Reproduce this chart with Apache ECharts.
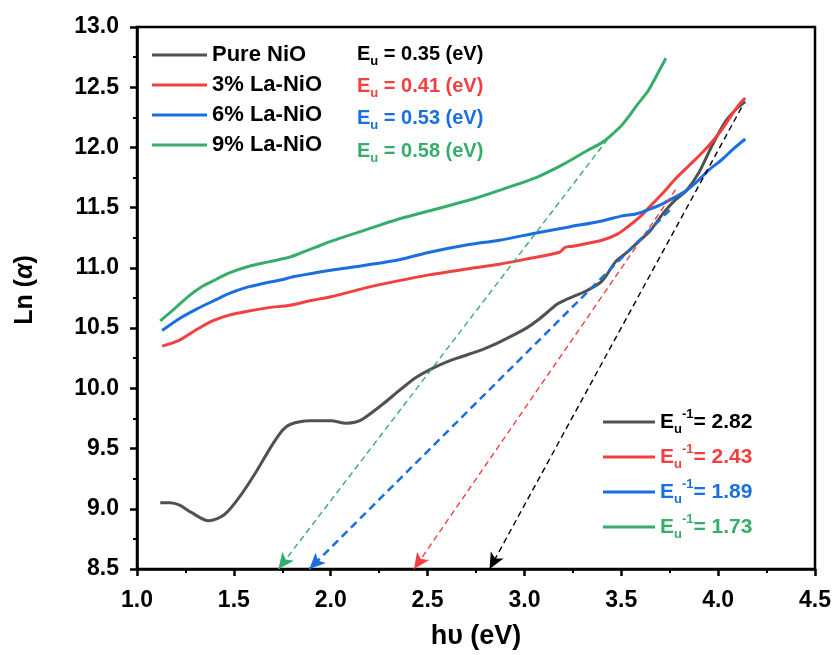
<!DOCTYPE html>
<html><head><meta charset="utf-8">
<script src="https://cdn.jsdelivr.net/npm/echarts@6/dist/echarts.min.js"></script>
<style>html,body{margin:0;padding:0;background:#fff}#chart{width:834px;height:655px}</style>
</head><body><div id="chart"></div>
<script>
// Urbach plots: Ln(alpha) against photon energy for NiO and La-doped NiO
const seriesNames = ['Pure NiO', '3% La-NiO', '6% La-NiO', '9% La-NiO'];
const lineColors = ['#515151', '#F14040', '#1A6FDF', '#37AD6B'];
const labelColors = ['#000000', '#F14040', '#1A6FDF', '#37AD6B'];

const pureNiO = [
  [1.12, 9.05], [1.17, 9.05], [1.22, 9.03], [1.28, 8.97], [1.37, 8.90], [1.45, 8.95], [1.53, 9.10],
  [1.62, 9.32], [1.69, 9.51], [1.75, 9.65], [1.79, 9.70], [1.89, 9.73], [2.00, 9.73],
  [2.08, 9.71], [2.13, 9.72], [2.17, 9.75], [2.27, 9.87], [2.36, 9.99], [2.44, 10.09],
  [2.53, 10.17], [2.60, 10.22], [2.67, 10.26], [2.78, 10.32], [2.84, 10.36], [2.94, 10.44],
  [3.01, 10.50], [3.08, 10.58], [3.17, 10.70], [3.22, 10.74], [3.32, 10.81], [3.40, 10.89],
  [3.47, 11.05], [3.53, 11.13], [3.59, 11.22], [3.65, 11.31], [3.71, 11.44], [3.77, 11.55],
  [3.835, 11.64], [3.90, 11.79], [3.97, 12.02], [4.04, 12.22], [4.10, 12.33], [4.14, 12.38]
];
const la3NiO = [
  [1.13, 10.35], [1.22, 10.40], [1.30, 10.48], [1.39, 10.56], [1.48, 10.61], [1.57, 10.64],
  [1.68, 10.67], [1.79, 10.69], [1.90, 10.73], [2.00, 10.76], [2.17, 10.83], [2.34, 10.89],
  [2.50, 10.94], [2.70, 10.99], [2.87, 11.03], [3.03, 11.08], [3.18, 11.13], [3.21, 11.17],
  [3.25, 11.18], [3.40, 11.23], [3.48, 11.28], [3.54, 11.35], [3.60, 11.43], [3.66, 11.53],
  [3.72, 11.63], [3.78, 11.74], [3.85, 11.85], [3.92, 11.96], [3.97, 12.05], [4.02, 12.15],
  [4.07, 12.27], [4.12, 12.38], [4.14, 12.41]
];
const la6NiO = [
  [1.13, 10.48], [1.22, 10.58], [1.31, 10.66], [1.40, 10.73], [1.48, 10.79], [1.57, 10.84],
  [1.65, 10.87], [1.74, 10.90], [1.82, 10.93], [2.00, 10.98], [2.17, 11.02], [2.36, 11.07],
  [2.51, 11.13], [2.70, 11.19], [2.87, 11.23], [3.06, 11.29], [3.23, 11.34], [3.40, 11.39],
  [3.50, 11.43], [3.58, 11.45], [3.65, 11.49], [3.71, 11.53], [3.78, 11.59], [3.835, 11.64],
  [3.90, 11.73], [3.95, 11.81], [4.02, 11.90], [4.08, 11.99], [4.14, 12.07]
];
const la9NiO = [
  [1.12, 10.56], [1.20, 10.67], [1.27, 10.77], [1.33, 10.84], [1.39, 10.89], [1.48, 10.96],
  [1.57, 11.01], [1.68, 11.05], [1.79, 11.09], [1.84, 11.12], [1.92, 11.17], [2.00, 11.22],
  [2.17, 11.31], [2.34, 11.40], [2.50, 11.47], [2.73, 11.57], [2.90, 11.66], [3.06, 11.75],
  [3.20, 11.86], [3.32, 11.97], [3.40, 12.04], [3.44, 12.09], [3.50, 12.18], [3.54, 12.26],
  [3.58, 12.35], [3.63, 12.45], [3.66, 12.53], [3.69, 12.62], [3.73, 12.74]
];
const curves = [pureNiO, la3NiO, la6NiO, la9NiO];

// Urbach energies (eV) and their inverses, where the fit lines meet the energy axis
const urbachEnergy = [0.35, 0.41, 0.53, 0.58];
const inverseUrbach = [2.82, 2.43, 1.89, 1.73];
// upper end of each extrapolated linear fit
const fitUpperEnd = [[4.12, 12.33], [3.78, 11.65], [3.75, 11.48], [3.43, 12.07]];

const xTicks = { min: 1.0, max: 4.5, step: 0.5 };
const yTicks = { min: 8.5, max: 13.0, step: 0.5 };

const FONT = 'Liberation Sans, Arial, sans-serif';
const fitNames = inverseUrbach.map((v, i) => 'fit' + i);

const series = [];
curves.forEach((d, i) => {
  series.push({
    name: seriesNames[i], type: 'line', data: d, showSymbol: false, symbol: 'none',
    smooth: 0.3, lineStyle: { color: lineColors[i], width: 3 }, itemStyle: { color: lineColors[i] },
    z: 3, silent: true
  });
});
inverseUrbach.forEach((v, i) => {
  const thick = i === 2;
  series.push({
    name: fitNames[i], type: 'line', data: [], symbol: 'none',
    lineStyle: { color: lineColors[i], width: 3 },
    itemStyle: { color: lineColors[i] },
    z: 4,
    markLine: {
      silent: true, animation: false,
      symbol: ['none', 'arrow'],
      label: { show: false },
      emphasis: { disabled: true },
      lineStyle: {
        color: i === 0 ? '#000' : lineColors[i],
        width: thick ? 2.5 : 1.4,
        type: thick ? [8, 5] : [6, 4]
      },
      data: [[
        { coord: fitUpperEnd[i], symbol: 'none' },
        { coord: [v, yTicks.min], symbol: 'arrow', symbolSize: [11, 16] }
      ]]
    }
  });
});

// rich-text styles: main text, subscript, superscript (color for legend, fill for graphic text)
function makeRich(size) {
  const r = {};
  labelColors.forEach((c, i) => {
    r['m' + i] = { fontFamily: FONT, fontWeight: 'bold', fontSize: size, color: c, fill: c, lineHeight: 28, verticalAlign: 'middle' };
    r['s' + i] = { fontFamily: FONT, fontWeight: 'bold', fontSize: 13, color: c, fill: c, lineHeight: 13, verticalAlign: 'bottom' };
    r['p' + i] = { fontFamily: FONT, fontWeight: 'bold', fontSize: 13, color: c, fill: c, lineHeight: 13, verticalAlign: 'top' };
  });
  return r;
}
const richEu = makeRich(20);
const richInv = makeRich(21);

const euRowY = [53, 85, 117, 150];
const graphics = urbachEnergy.map((e, i) => ({
  type: 'text', left: 357, top: euRowY[i] - 9, silent: true,
  style: {
    text: '{m' + i + '|E}{s' + i + '|u}{m' + i + '| = ' + e.toFixed(2) + ' (eV)}',
    fill: labelColors[i],
    rich: richEu
  }
}));

const option = {
  animation: false,
  backgroundColor: '#fff',
  grid: { left: 137, right: 18, top: 27, bottom: 83, show: true, borderColor: '#000', borderWidth: 2.5, backgroundColor: 'transparent' },
  xAxis: {
    type: 'value', min: xTicks.min, max: xTicks.max, interval: xTicks.step,
    name: 'hυ (eV)', nameLocation: 'middle', nameGap: 54,
    nameTextStyle: { fontFamily: FONT, fontWeight: 'bold', fontSize: 27, color: '#000' },
    axisLine: { show: true, lineStyle: { color: '#000', width: 2.5 } },
    axisTick: { show: true, inside: false, length: 7, lineStyle: { color: '#000', width: 2.5 } },
    minorTick: { show: true, splitNumber: 2, length: 4, lineStyle: { color: '#000', width: 2 } },
    splitLine: { show: false },
    axisLabel: { fontFamily: FONT, fontWeight: 'bold', fontSize: 23, color: '#000', margin: 20, formatter: v => v.toFixed(1) }
  },
  yAxis: {
    type: 'value', min: yTicks.min, max: yTicks.max, interval: yTicks.step,
    name: '{n|Ln (}{a|α}{n|)}', nameLocation: 'middle', nameGap: 99,
    nameTextStyle: {
      padding: [0, 0, 0, 16],
      rich: {
        n: { fontFamily: FONT, fontWeight: 'bold', fontSize: 25, color: '#000' },
        a: { fontFamily: FONT, fontWeight: 'bold', fontStyle: 'italic', fontSize: 25, color: '#000' }
      }
    },
    axisLine: { show: true, lineStyle: { color: '#000', width: 2.5 } },
    axisTick: { show: true, inside: false, length: 7, lineStyle: { color: '#000', width: 2.5 } },
    minorTick: { show: true, splitNumber: 2, length: 4, lineStyle: { color: '#000', width: 2 } },
    splitLine: { show: false },
    axisLabel: { fontFamily: FONT, fontWeight: 'bold', fontSize: 23, color: '#000', margin: 18, formatter: v => v.toFixed(1) }
  },
  legend: [
    {
      data: seriesNames, orient: 'vertical', left: 152, top: 44, padding: 0,
      icon: 'path://M0,0 L55,0 L55,3 L0,3 Z', itemWidth: 55, itemHeight: 3, itemGap: 8, selectedMode: false,
      textStyle: { fontFamily: FONT, fontWeight: 'bold', fontSize: 22, color: '#000', lineHeight: 22 }
    },
    {
      data: fitNames, orient: 'vertical', left: 603, top: 408, padding: 0,
      icon: 'path://M0,0 L52,0 L52,3 L0,3 Z', itemWidth: 52, itemHeight: 3, itemGap: 7, selectedMode: false,
      formatter: name => {
        const i = fitNames.indexOf(name);
        return '{m' + i + '|E}{s' + i + '|u}{p' + i + '|-1}{m' + i + '|= ' + inverseUrbach[i].toFixed(2) + '}';
      },
      textStyle: { rich: richInv }
    }
  ],
  graphic: graphics,
  series: series
};

const chart = echarts.init(document.getElementById('chart'), null, { renderer: 'canvas' });
chart.setOption(option);
</script>
</body></html>
